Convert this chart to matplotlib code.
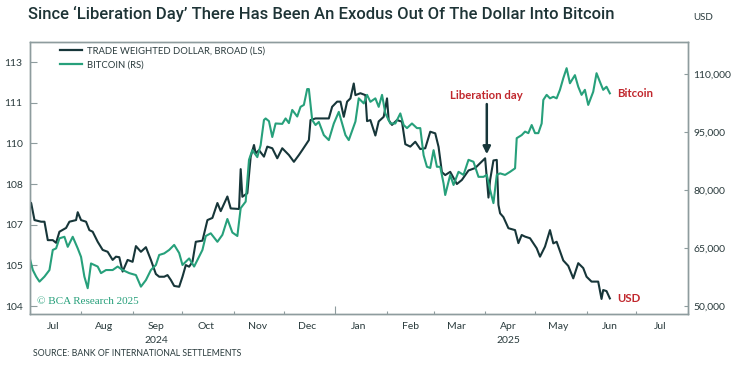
import matplotlib
matplotlib.use("Agg")
import matplotlib.pyplot as plt
import matplotlib.transforms as mtransforms
from matplotlib.lines import Line2D
import pandas as pd

# ---------------- data ----------------
usd_dates = [
    "2024-07-01", "2024-07-02", "2024-07-04", "2024-07-08", "2024-07-10", "2024-07-12", "2024-07-15",
    "2024-07-17", "2024-07-19", "2024-07-23", "2024-07-25", "2024-07-29", "2024-07-30", "2024-08-01",
    "2024-08-04", "2024-08-06", "2024-08-08", "2024-08-11", "2024-08-14", "2024-08-17", "2024-08-20",
    "2024-08-22", "2024-08-24", "2024-08-26", "2024-08-29", "2024-09-01", "2024-09-03", "2024-09-06",
    "2024-09-09", "2024-09-12", "2024-09-15", "2024-09-17", "2024-09-20", "2024-09-22", "2024-09-24",
    "2024-09-26", "2024-09-29", "2024-10-01", "2024-10-03", "2024-10-05", "2024-10-07", "2024-10-09",
    "2024-10-13", "2024-10-16", "2024-10-19", "2024-10-22", "2024-10-24", "2024-10-28", "2024-10-30",
    "2024-11-04", "2024-11-05", "2024-11-06", "2024-11-09", "2024-11-11", "2024-11-13", "2024-11-14",
    "2024-11-16", "2024-11-19", "2024-11-21", "2024-11-24", "2024-11-27", "2024-11-30", "2024-12-04",
    "2024-12-07", "2024-12-10", "2024-12-12", "2024-12-16", "2024-12-17", "2024-12-20", "2024-12-28",
    "2024-12-30", "2025-01-02", "2025-01-04", "2025-01-06", "2025-01-08", "2025-01-10", "2025-01-12",
    "2025-01-13", "2025-01-16", "2025-01-19", "2025-01-20", "2025-01-22", "2025-01-25", "2025-01-27",
    "2025-01-30", "2025-02-01", "2025-02-02", "2025-02-04", "2025-02-07", "2025-02-10", "2025-02-12",
    "2025-02-15", "2025-02-18", "2025-02-21", "2025-02-24", "2025-02-27", "2025-03-02", "2025-03-04",
    "2025-03-06", "2025-03-08", "2025-03-11", "2025-03-15", "2025-03-18", "2025-03-22", "2025-03-26",
    "2025-04-01", "2025-04-03", "2025-04-04", "2025-04-06", "2025-04-08", "2025-04-09", "2025-04-10",
    "2025-04-12", "2025-04-15", "2025-04-19", "2025-04-21", "2025-04-23", "2025-04-25", "2025-04-28",
    "2025-05-02", "2025-05-04", "2025-05-07", "2025-05-10", "2025-05-12", "2025-05-14", "2025-05-18",
    "2025-05-21", "2025-05-24", "2025-05-27", "2025-05-30", "2025-06-01", "2025-06-04", "2025-06-08",
    "2025-06-10", "2025-06-11", "2025-06-13", "2025-06-15",
]
usd_values = [
    107.84, 107.80, 107.17, 107.11, 107.11, 106.43, 106.43,
    106.33, 106.74, 106.88, 107.11, 107.17, 107.46, 107.17,
    107.11, 106.80, 106.74, 106.37, 106.07, 106.00, 105.70,
    105.82, 105.80, 105.27, 105.70, 105.63, 106.21, 106.00,
    106.17, 105.70, 105.18, 105.08, 105.08, 105.14, 104.96,
    104.74, 104.71, 105.08, 105.51, 105.45, 105.63, 106.37,
    106.41, 107.17, 107.25, 107.80, 107.50, 108.04, 107.60,
    107.58, 109.05, 108.03, 108.16, 109.50, 109.94, 109.63,
    109.75, 109.51, 109.88, 109.82, 109.45, 109.82, 109.57,
    109.32, 109.57, 109.75, 110.12, 110.86, 110.92, 110.92,
    111.35, 111.54, 111.54, 110.98, 111.54, 111.66, 112.21,
    111.78, 111.85, 111.78, 110.82, 110.86, 110.29, 110.81,
    110.98, 111.66, 110.86, 110.68, 110.86, 110.80, 109.97,
    109.88, 110.06, 109.79, 109.82, 110.43, 110.37, 109.87,
    108.94, 108.83, 108.95, 108.50, 108.65, 109.00, 109.09,
    109.45, 108.00, 108.65, 109.37, 109.39, 107.73, 107.42,
    107.28, 106.87, 106.80, 106.32, 106.62, 106.56, 106.50,
    106.13, 105.82, 106.19, 106.80, 106.31, 106.37, 105.68,
    105.48, 105.02, 105.58, 105.40, 105.08, 104.90, 104.90,
    104.26, 104.59, 104.55, 104.28,
]

btc_dates = [
    "2024-07-01", "2024-07-03", "2024-07-05", "2024-07-07", "2024-07-10", "2024-07-13", "2024-07-15",
    "2024-07-17", "2024-07-19", "2024-07-22", "2024-07-24", "2024-07-27", "2024-07-30", "2024-08-01",
    "2024-08-03", "2024-08-05", "2024-08-07", "2024-08-11", "2024-08-13", "2024-08-16", "2024-08-20",
    "2024-08-23", "2024-08-26", "2024-08-30", "2024-09-03", "2024-09-06", "2024-09-09", "2024-09-12",
    "2024-09-15", "2024-09-17", "2024-09-20", "2024-09-23", "2024-09-26", "2024-09-29", "2024-10-01",
    "2024-10-05", "2024-10-08", "2024-10-10", "2024-10-13", "2024-10-15", "2024-10-18", "2024-10-22",
    "2024-10-25", "2024-10-28", "2024-10-31", "2024-11-03", "2024-11-05", "2024-11-08", "2024-11-10",
    "2024-11-12", "2024-11-15", "2024-11-17", "2024-11-19", "2024-11-20", "2024-11-22", "2024-11-24",
    "2024-11-26", "2024-11-30", "2024-12-02", "2024-12-04", "2024-12-06", "2024-12-09", "2024-12-11",
    "2024-12-13", "2024-12-15", "2024-12-16", "2024-12-18", "2024-12-20", "2024-12-22", "2024-12-25",
    "2024-12-28", "2024-12-31", "2025-01-03", "2025-01-07", "2025-01-09", "2025-01-13", "2025-01-15",
    "2025-01-18", "2025-01-20", "2025-01-22", "2025-01-25", "2025-01-27", "2025-01-29", "2025-01-31",
    "2025-02-03", "2025-02-06", "2025-02-09", "2025-02-11", "2025-02-13", "2025-02-16", "2025-02-19",
    "2025-02-21", "2025-02-23", "2025-02-25", "2025-02-27", "2025-03-01", "2025-03-03", "2025-03-05",
    "2025-03-07", "2025-03-08", "2025-03-11", "2025-03-13", "2025-03-16", "2025-03-19", "2025-03-22",
    "2025-03-25", "2025-03-28", "2025-03-31", "2025-04-02", "2025-04-04", "2025-04-06", "2025-04-08",
    "2025-04-10", "2025-04-13", "2025-04-16", "2025-04-19", "2025-04-20", "2025-04-23", "2025-04-25",
    "2025-04-27", "2025-04-29", "2025-05-01", "2025-05-03", "2025-05-05", "2025-05-06", "2025-05-08",
    "2025-05-10", "2025-05-12", "2025-05-14", "2025-05-16", "2025-05-18", "2025-05-20", "2025-05-22",
    "2025-05-25", "2025-05-27", "2025-05-29", "2025-05-31", "2025-06-02", "2025-06-05", "2025-06-07",
    "2025-06-09", "2025-06-11", "2025-06-13", "2025-06-15",
]
btc_values = [
    62600, 59300, 57600, 56300, 57600, 59300, 64500,
    64900, 67500, 67900, 65300, 67900, 64900, 62700,
    57600, 54600, 61000, 60200, 58500, 59300, 59300,
    60200, 59300, 58500, 58000, 55000, 56700, 59300,
    60600, 63200, 63600, 64500, 65800, 63700, 60600,
    62300, 60200, 61900, 64500, 68100, 68800, 66600,
    68400, 72500, 69000, 68100, 75300, 77000, 87800,
    90300, 88500, 91600, 98100, 98500, 97800, 93700,
    97200, 97100, 98500, 97300, 100700, 99000, 101500,
    102000, 106100, 106100, 98100, 96800, 97600, 94200,
    92900, 97200, 100200, 94200, 92900, 97700, 103700,
    102400, 104600, 102800, 103700, 101500, 104600, 99800,
    97200, 97200, 99800, 96800, 96000, 97200, 96000,
    96000, 89000, 86000, 85700, 90300, 86000, 86000,
    81700, 78700, 83900, 81300, 84700, 83900, 87800,
    87300, 83400, 83400, 83900, 80000, 76600, 83900,
    84300, 83900, 84700, 85600, 93400, 94200, 95100,
    94700, 96800, 94700, 94700, 97200, 103300, 104600,
    103700, 104100, 103700, 105900, 108900, 111500, 107600,
    109700, 106700, 104600, 105900, 102000, 105400, 110200,
    108000, 105900, 106700, 105000,
]

left_ticks = [104, 105.5, 107, 108.5, 110, 111.5, 113]
left_labels = ["104", "105", "107", "108", "110", "111", "113"]
right_ticks = [50000, 65000, 80000, 95000, 110000]
right_labels = ["50,000", "65,000", "80,000", "95,000", "110,000"]
month_labels = ["Jul", "Aug", "Sep", "Oct", "Nov", "Dec", "Jan", "Feb", "Mar", "Apr", "May", "Jun", "Jul"]
liberation_day = "2025-04-02"

# ---------------- styling ----------------
DARK = "#173639"
GREEN = "#27a07b"
RED = "#c1272d"
SPINE = "#8e9c9e"
TEXT = "#2a3b3d"
plt.rcParams["font.family"] = ["Lato", "DejaVu Sans"]

usd_x = pd.to_datetime(usd_dates)
btc_x = pd.to_datetime(btc_dates)

fig = plt.figure(figsize=(7.43, 3.66), dpi=100)
W, H = 743, 366
ax = fig.add_axes([29.5 / W, 1 - 314 / H, (688 - 29.5) / W, (314 - 42) / H])
ax2 = ax.twinx()

ax.plot(usd_x, usd_values, color=DARK, lw=1.5, zorder=3)
ax2.plot(btc_x, btc_values, color=GREEN, lw=1.5, zorder=2)

ax.set_xlim(pd.Timestamp("2024-07-01"), pd.Timestamp("2025-08-01"))
ax.set_ylim(103.705, 113.74)
ax2.set_ylim(47931, 118270)

for a in (ax, ax2):
    for s in a.spines.values():
        s.set_color(SPINE)
        s.set_linewidth(1.0)

ax.set_yticks(left_ticks)
ax.set_yticklabels(left_labels)
ax.tick_params(axis="y", direction="in", length=5, width=0.8, color=SPINE,
               labelsize=7.5, labelcolor=TEXT, pad=5)
ax2.set_yticks(right_ticks)
ax2.set_yticklabels(right_labels)
ax2.tick_params(axis="y", direction="in", length=3, width=0.8, color=SPINE,
                labelsize=7.5, labelcolor=TEXT, pad=4)

# month boundaries as ticks, labels centred mid-month
month_starts = pd.date_range("2024-07-01", "2025-08-01", freq="MS")
mid_months = pd.date_range("2024-07-01", "2025-07-01", freq="MS") + pd.Timedelta(days=14)
ax.set_xticks(month_starts)
ax.set_xticklabels([""] * len(month_starts))
ax.set_xticks(mid_months, minor=True)
ax.set_xticklabels(month_labels, minor=True)
ax.tick_params(axis="x", which="major", direction="in", length=2.5, width=0.8, color=SPINE)
ax.tick_params(axis="x", which="minor", length=0, labelsize=7.5, labelcolor=TEXT, pad=6)
jan_idx = list(month_starts).index(pd.Timestamp("2025-01-01"))
ax.xaxis.get_major_ticks()[jan_idx].tick1line.set_markersize(6)

# year labels
yr = mtransforms.blended_transform_factory(ax.transData, ax.transAxes)
for day, year in [("2024-09-15", "2024"), ("2025-04-15", "2025")]:
    ax.text(pd.Timestamp(day), -0.082, year, transform=yr, ha="center", va="top",
            fontsize=7.5, color=TEXT)

# legend
handles = [Line2D([], [], color=DARK, lw=1.6), Line2D([], [], color=GREEN, lw=1.6)]
leg = ax.legend(handles, ["TRADE WEIGHTED DOLLAR, BROAD (LS)", "BITCOIN (RS)"],
                loc="upper left", bbox_to_anchor=(0.046, 0.985), frameon=False,
                fontsize=6.8, handlelength=2.3, handletextpad=0.6, labelspacing=0.6,
                borderpad=0, borderaxespad=0)
for txt in leg.get_texts():
    txt.set_color(TEXT)

# annotations
ax.annotate("", xy=(pd.Timestamp(liberation_day), 109.6), xytext=(pd.Timestamp(liberation_day), 111.45),
            arrowprops=dict(arrowstyle="-|>", color=DARK, lw=1.8, mutation_scale=11,
                            shrinkA=0, shrinkB=0), zorder=5)
ax.text(pd.Timestamp(liberation_day), 111.78, "Liberation day", ha="center", va="center",
        fontsize=8.2, fontweight="bold", color=RED)
ax2.annotate("Bitcoin", xy=(btc_x[-1], btc_values[-1]), xytext=(5, 0), textcoords="offset points",
             ha="left", va="center", fontsize=8.2, fontweight="bold", color=RED)
ax.annotate("USD", xy=(usd_x[-1], usd_values[-1]), xytext=(5, 0), textcoords="offset points",
            ha="left", va="center", fontsize=8.2, fontweight="bold", color=RED)

ax.text(0.012, 0.045, "\u00a9 BCA Research 2025", transform=ax.transAxes, ha="left", va="center",
        fontsize=8, color=GREEN, family="Liberation Serif")

# titles and notes
fig.text(28 / W, 1 - 14 / H, "Since \u2018Liberation Day\u2019 There Has Been An Exodus Out Of The Dollar Into Bitcoin",
         ha="left", va="center", fontsize=12, color="#1e3436", family="Roboto", fontweight="medium")
fig.text(703 / W, 1 - 18 / H, "USD", ha="center", va="center", fontsize=7, color=TEXT)
fig.text(33 / W, 1 - 354 / H, "SOURCE: BANK OF INTERNATIONAL SETTLEMENTS", ha="left", va="center",
         fontsize=6.3, color=TEXT)

fig.savefig("out.png", dpi=100)
